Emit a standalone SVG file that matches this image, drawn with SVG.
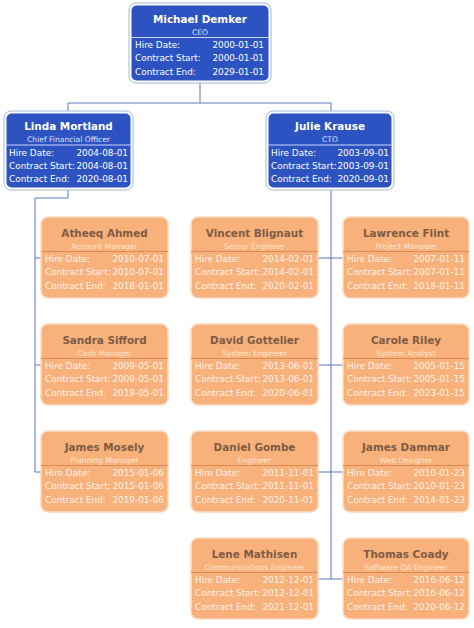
<svg xmlns="http://www.w3.org/2000/svg" width="474" height="628" viewBox="0 0 474 628">
<style>
text{font-family:"DejaVu Sans","Liberation Sans",sans-serif}
.bo{fill:#ffffff;stroke:#a3b4dc;stroke-width:1}
.bi{fill:#2d53c3}
.bt{fill:#ffffff;font-size:10.4px;font-weight:bold;text-anchor:middle}
.bs{fill:#dfe6fa;font-size:7.6px;text-anchor:middle}
.bl{stroke:#c9d5f5;stroke-width:1}
.br{fill:#ffffff;font-size:8.9px}
.oo{fill:#f9b17c;stroke:#fcdcc4;stroke-width:1.5}
.ot{fill:#7e5b44;font-size:10.4px;font-weight:bold;text-anchor:middle}
.os{fill:#fde6d1;font-size:7.6px;text-anchor:middle}
.ol{stroke:#d98a55;stroke-width:1}
.or{fill:#fff3e6;font-size:8.9px}
.r{text-anchor:end}
.c{fill:none;stroke:#5b77c2;stroke-width:1}
</style>
<g id="connectors">
<path class="c" d="M200,83V103M68,103H331M68,103V111M331,103V111"/>
<path class="c" d="M68,190V198H35V472H41M35,258H41M35,365H41"/>
<path class="c" d="M331,190V579M318,258H343M318,365H343M318,472H343M318,579H343"/>
</g>
<g id="michael" transform="translate(129,3)">
<rect class="bo" x="0" y="0" width="142" height="80" rx="7"/>
<rect class="bi" x="2.5" y="2.5" width="137" height="75" rx="5"/>
<text class="bt" x="71" y="19.5">Michael Demker</text>
<text class="bs" x="71" y="31.5">CEO</text>
<line class="bl" x1="2.5" y1="34.5" x2="139.5" y2="34.5"/>
<text class="br" x="6" y="44.5">Hire Date:</text><text class="br r" x="135" y="44.5">2000-01-01</text>
<text class="br" x="6" y="58">Contract Start:</text><text class="br r" x="135" y="58">2000-01-01</text>
<text class="br" x="6" y="71.5">Contract End:</text><text class="br r" x="135" y="71.5">2029-01-01</text>
</g>
<g id="linda" transform="translate(4,111)">
<rect class="bo" x="0" y="0" width="129" height="79" rx="7"/>
<rect class="bi" x="2.5" y="2.5" width="124" height="74" rx="5"/>
<text class="bt" x="64.5" y="19">Linda Mortland</text>
<text class="bs" x="64.5" y="30.5">Chief Financial Officer</text>
<line class="bl" x1="2.5" y1="34" x2="126.5" y2="34"/>
<text class="br" x="5" y="44.5">Hire Date:</text><text class="br r" x="124" y="44.5">2004-08-01</text>
<text class="br" x="5" y="57.5">Contract Start:</text><text class="br r" x="124" y="57.5">2004-08-01</text>
<text class="br" x="5" y="70.5">Contract End:</text><text class="br r" x="124" y="70.5">2020-08-01</text>
</g>
<g id="julie" transform="translate(266,111)">
<rect class="bo" x="0" y="0" width="128" height="79" rx="7"/>
<rect class="bi" x="2.5" y="2.5" width="123" height="74" rx="5"/>
<text class="bt" x="64" y="19">Julie Krause</text>
<text class="bs" x="64" y="30.5">CTO</text>
<line class="bl" x1="2.5" y1="34" x2="125.5" y2="34"/>
<text class="br" x="5" y="44.5">Hire Date:</text><text class="br r" x="123" y="44.5">2003-09-01</text>
<text class="br" x="5" y="57.5">Contract Start:</text><text class="br r" x="123" y="57.5">2003-09-01</text>
<text class="br" x="5" y="70.5">Contract End:</text><text class="br r" x="123" y="70.5">2020-09-01</text>
</g>
<g id="atheeq" transform="translate(41,217)">
<rect class="oo" x="0" y="0" width="127" height="81" rx="7"/>
<text class="ot" x="63.5" y="19.5">Atheeq Ahmed</text>
<text class="os" x="63.5" y="31.5">Account Manager</text>
<line class="ol" x1="0" y1="34.5" x2="127" y2="34.5"/>
<text class="or" x="4" y="44.5">Hire Date:</text><text class="or r" x="123" y="44.5">2010-07-01</text>
<text class="or" x="4" y="58">Contract Start:</text><text class="or r" x="123" y="58">2010-07-01</text>
<text class="or" x="4" y="71.5">Contract End:</text><text class="or r" x="123" y="71.5">2018-01-01</text>
</g>
<g id="sandra" transform="translate(41,324)">
<rect class="oo" x="0" y="0" width="127" height="81" rx="7"/>
<text class="ot" x="63.5" y="19.5">Sandra Sifford</text>
<text class="os" x="63.5" y="31.5">Cash Manager</text>
<line class="ol" x1="0" y1="34.5" x2="127" y2="34.5"/>
<text class="or" x="4" y="44.5">Hire Date:</text><text class="or r" x="123" y="44.5">2009-05-01</text>
<text class="or" x="4" y="58">Contract Start:</text><text class="or r" x="123" y="58">2009-05-01</text>
<text class="or" x="4" y="71.5">Contract End:</text><text class="or r" x="123" y="71.5">2019-05-01</text>
</g>
<g id="jamesmosely" transform="translate(41,431)">
<rect class="oo" x="0" y="0" width="127" height="81" rx="7"/>
<text class="ot" x="63.5" y="19.5">James Mosely</text>
<text class="os" x="63.5" y="31.5">Planning Manager</text>
<line class="ol" x1="0" y1="34.5" x2="127" y2="34.5"/>
<text class="or" x="4" y="44.5">Hire Date:</text><text class="or r" x="123" y="44.5">2015-01-06</text>
<text class="or" x="4" y="58">Contract Start:</text><text class="or r" x="123" y="58">2015-01-06</text>
<text class="or" x="4" y="71.5">Contract End:</text><text class="or r" x="123" y="71.5">2019-01-06</text>
</g>
<g id="vincent" transform="translate(191,217)">
<rect class="oo" x="0" y="0" width="127" height="81" rx="7"/>
<text class="ot" x="63.5" y="19.5">Vincent Blignaut</text>
<text class="os" x="63.5" y="31.5">Senior Engineer</text>
<line class="ol" x1="0" y1="34.5" x2="127" y2="34.5"/>
<text class="or" x="4" y="44.5">Hire Date:</text><text class="or r" x="123" y="44.5">2014-02-01</text>
<text class="or" x="4" y="58">Contract Start:</text><text class="or r" x="123" y="58">2014-02-01</text>
<text class="or" x="4" y="71.5">Contract End:</text><text class="or r" x="123" y="71.5">2020-02-01</text>
</g>
<g id="david" transform="translate(191,324)">
<rect class="oo" x="0" y="0" width="127" height="81" rx="7"/>
<text class="ot" x="63.5" y="19.5">David Gottelier</text>
<text class="os" x="63.5" y="31.5">System Engineer</text>
<line class="ol" x1="0" y1="34.5" x2="127" y2="34.5"/>
<text class="or" x="4" y="44.5">Hire Date:</text><text class="or r" x="123" y="44.5">2013-06-01</text>
<text class="or" x="4" y="58">Contract Start:</text><text class="or r" x="123" y="58">2013-06-01</text>
<text class="or" x="4" y="71.5">Contract End:</text><text class="or r" x="123" y="71.5">2020-06-01</text>
</g>
<g id="daniel" transform="translate(191,431)">
<rect class="oo" x="0" y="0" width="127" height="81" rx="7"/>
<text class="ot" x="63.5" y="19.5">Daniel Gombe</text>
<text class="os" x="63.5" y="31.5">Engineer</text>
<line class="ol" x1="0" y1="34.5" x2="127" y2="34.5"/>
<text class="or" x="4" y="44.5">Hire Date:</text><text class="or r" x="123" y="44.5">2011-11-01</text>
<text class="or" x="4" y="58">Contract Start:</text><text class="or r" x="123" y="58">2011-11-01</text>
<text class="or" x="4" y="71.5">Contract End:</text><text class="or r" x="123" y="71.5">2020-11-01</text>
</g>
<g id="lene" transform="translate(191,538)">
<rect class="oo" x="0" y="0" width="127" height="81" rx="7"/>
<text class="ot" x="63.5" y="19.5">Lene Mathisen</text>
<text class="os" x="63.5" y="31.5">Communications Engineer</text>
<line class="ol" x1="0" y1="34.5" x2="127" y2="34.5"/>
<text class="or" x="4" y="44.5">Hire Date:</text><text class="or r" x="123" y="44.5">2012-12-01</text>
<text class="or" x="4" y="58">Contract Start:</text><text class="or r" x="123" y="58">2012-12-01</text>
<text class="or" x="4" y="71.5">Contract End:</text><text class="or r" x="123" y="71.5">2021-12-01</text>
</g>
<g id="lawrence" transform="translate(343,217)">
<rect class="oo" x="0" y="0" width="126" height="81" rx="7"/>
<text class="ot" x="63" y="19.5">Lawrence Flint</text>
<text class="os" x="63" y="31.5">Project Manager</text>
<line class="ol" x1="0" y1="34.5" x2="126" y2="34.5"/>
<text class="or" x="4" y="44.5">Hire Date:</text><text class="or r" x="122" y="44.5">2007-01-11</text>
<text class="or" x="4" y="58">Contract Start:</text><text class="or r" x="122" y="58">2007-01-11</text>
<text class="or" x="4" y="71.5">Contract End:</text><text class="or r" x="122" y="71.5">2018-01-11</text>
</g>
<g id="carole" transform="translate(343,324)">
<rect class="oo" x="0" y="0" width="126" height="81" rx="7"/>
<text class="ot" x="63" y="19.5">Carole Riley</text>
<text class="os" x="63" y="31.5">System Analyst</text>
<line class="ol" x1="0" y1="34.5" x2="126" y2="34.5"/>
<text class="or" x="4" y="44.5">Hire Date:</text><text class="or r" x="122" y="44.5">2005-01-15</text>
<text class="or" x="4" y="58">Contract Start:</text><text class="or r" x="122" y="58">2005-01-15</text>
<text class="or" x="4" y="71.5">Contract End:</text><text class="or r" x="122" y="71.5">2023-01-15</text>
</g>
<g id="jamesdammar" transform="translate(343,431)">
<rect class="oo" x="0" y="0" width="126" height="81" rx="7"/>
<text class="ot" x="63" y="19.5">James Dammar</text>
<text class="os" x="63" y="31.5">Web Designer</text>
<line class="ol" x1="0" y1="34.5" x2="126" y2="34.5"/>
<text class="or" x="4" y="44.5">Hire Date:</text><text class="or r" x="122" y="44.5">2010-01-23</text>
<text class="or" x="4" y="58">Contract Start:</text><text class="or r" x="122" y="58">2010-01-23</text>
<text class="or" x="4" y="71.5">Contract End:</text><text class="or r" x="122" y="71.5">2014-01-23</text>
</g>
<g id="thomas" transform="translate(343,538)">
<rect class="oo" x="0" y="0" width="126" height="81" rx="7"/>
<text class="ot" x="63" y="19.5">Thomas Coady</text>
<text class="os" x="63" y="31.5">Software QA Engineer</text>
<line class="ol" x1="0" y1="34.5" x2="126" y2="34.5"/>
<text class="or" x="4" y="44.5">Hire Date:</text><text class="or r" x="122" y="44.5">2016-06-12</text>
<text class="or" x="4" y="58">Contract Start:</text><text class="or r" x="122" y="58">2016-06-12</text>
<text class="or" x="4" y="71.5">Contract End:</text><text class="or r" x="122" y="71.5">2020-06-12</text>
</g>
</svg>
